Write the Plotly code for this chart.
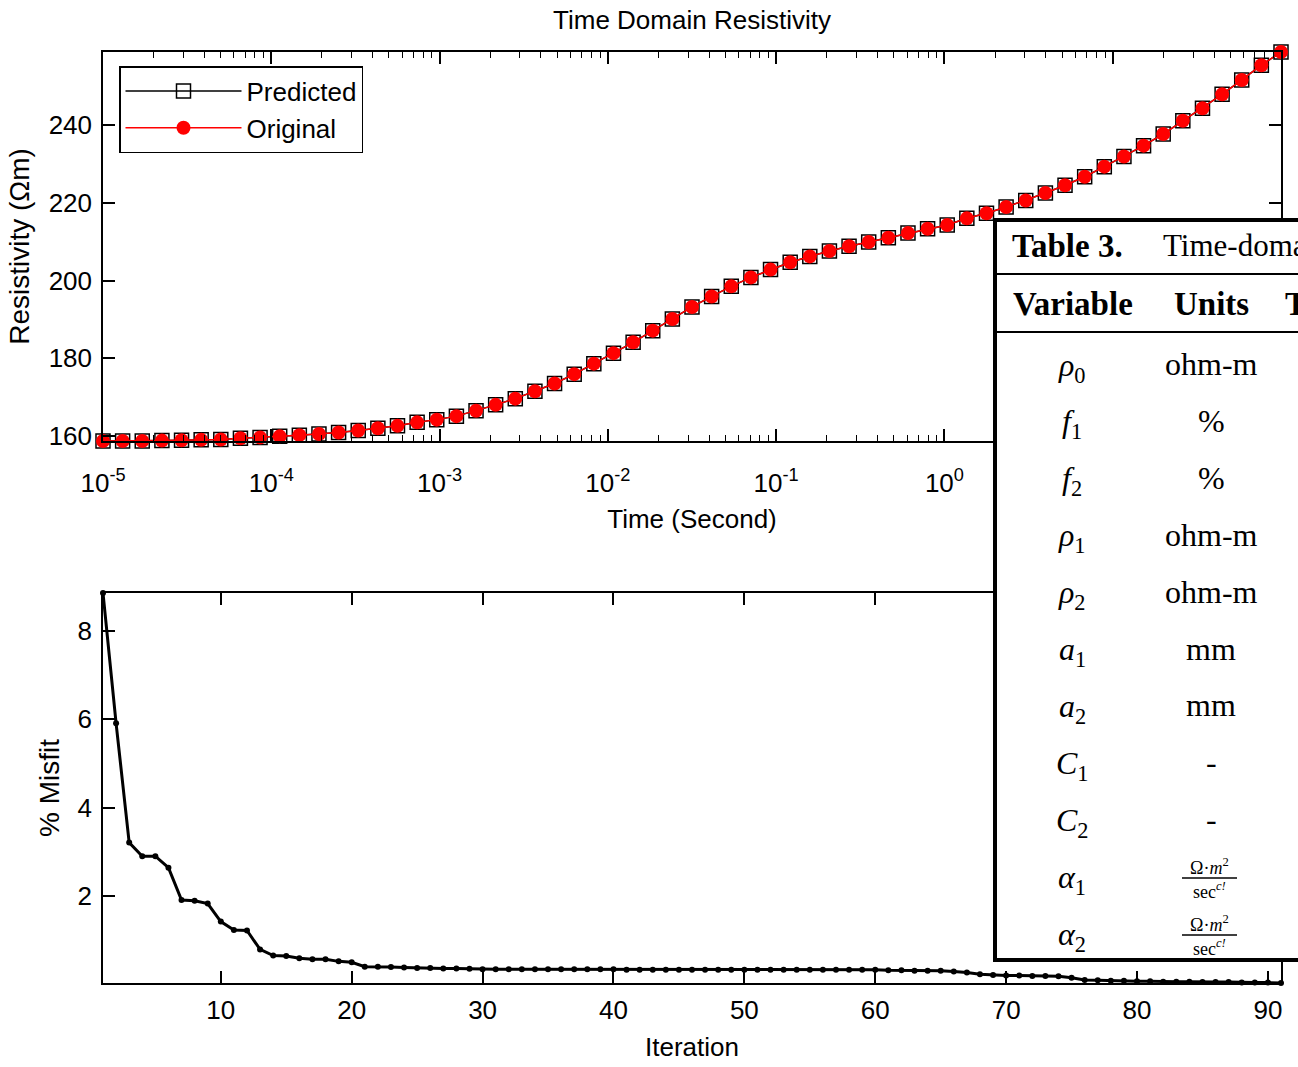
import plotly.graph_objects as go

# ---------------- data ----------------
time_s = [1.000e-5, 1.308e-5, 1.711e-5, 2.239e-5, 2.929e-5, 3.831e-5, 5.012e-5, 6.556e-5, 8.577e-5,
          1.122e-4, 1.468e-4, 1.920e-4, 2.512e-4, 3.286e-4, 4.299e-4, 5.623e-4, 7.356e-4, 9.624e-4,
          1.259e-3, 1.647e-3, 2.154e-3, 2.818e-3, 3.687e-3, 4.823e-3, 6.310e-3, 8.254e-3,
          1.080e-2, 1.413e-2, 1.848e-2, 2.417e-2, 3.162e-2, 4.137e-2, 5.412e-2, 7.080e-2, 9.261e-2,
          1.212e-1, 1.585e-1, 2.073e-1, 2.712e-1, 3.548e-1, 4.642e-1, 6.072e-1, 7.943e-1,
          1.039, 1.359, 1.778, 2.326, 3.043, 3.981, 5.208, 6.813, 8.913,
          11.66, 15.25, 19.95, 26.10, 34.15, 44.67, 58.43, 76.44, 100.0]

resistivity_original = [158.7, 158.7, 158.7, 158.8, 158.9, 159.0, 159.1, 159.4, 159.6, 159.9,
                        160.2, 160.5, 160.9, 161.4, 162.0, 162.6, 163.5, 164.2, 165.1, 166.5,
                        168.0, 169.6, 171.5, 173.5, 175.9, 178.6, 181.3, 184.1, 187.1, 190.1,
                        193.2, 195.9, 198.5, 200.8, 202.8, 204.7, 206.2, 207.6, 208.8, 209.9,
                        211.0, 212.2, 213.3, 214.3, 216.0, 217.3, 218.9, 220.6, 222.5, 224.5,
                        226.7, 229.3, 231.9, 234.7, 237.7, 241.1, 244.3, 247.9, 251.6, 255.4,
                        258.8]

resistivity_predicted = [158.7, 158.7, 158.7, 158.8, 158.9, 159.0, 159.1, 159.4, 159.6, 159.9,
                         160.2, 160.5, 160.9, 161.4, 162.0, 162.6, 163.5, 164.2, 165.1, 166.5,
                         168.0, 169.6, 171.5, 173.5, 175.9, 178.6, 181.3, 184.1, 187.1, 190.1,
                         193.2, 195.9, 198.5, 200.8, 202.8, 204.7, 206.2, 207.6, 208.8, 209.9,
                         211.0, 212.2, 213.3, 214.3, 216.0, 217.3, 218.9, 220.6, 222.5, 224.5,
                         226.7, 229.3, 231.9, 234.7, 237.7, 241.1, 244.3, 247.9, 251.6, 255.4,
                         258.8]

iterations = list(range(1, 92))
misfit_pct = [8.86, 5.91, 3.21, 2.90, 2.90, 2.64, 1.91, 1.89, 1.83, 1.42,
              1.23, 1.22, 0.79, 0.65, 0.64, 0.59, 0.57, 0.57, 0.52, 0.50,
              0.40, 0.40, 0.39, 0.38, 0.37, 0.37, 0.36, 0.36, 0.35, 0.34,
              0.34, 0.34, 0.34, 0.34, 0.34, 0.34, 0.34, 0.34, 0.34, 0.34,
              0.33, 0.33, 0.33, 0.33, 0.33, 0.33, 0.33, 0.33, 0.33, 0.33,
              0.33, 0.33, 0.33, 0.33, 0.33, 0.33, 0.33, 0.33, 0.33, 0.33,
              0.32, 0.32, 0.31, 0.31, 0.31, 0.29, 0.27, 0.23, 0.21, 0.20,
              0.20, 0.19, 0.19, 0.18, 0.15, 0.10, 0.09, 0.08, 0.08, 0.07,
              0.07, 0.06, 0.06, 0.06, 0.05, 0.05, 0.05, 0.04, 0.04, 0.04,
              0.03]

time_tick_vals = [1e-5, 1e-4, 1e-3, 1e-2, 1e-1, 1e0, 1e1, 1e2]
time_tick_text = ["10<sup>-5</sup>", "10<sup>-4</sup>", "10<sup>-3</sup>", "10<sup>-2</sup>",
                  "10<sup>-1</sup>", "10<sup>0</sup>", "10<sup>1</sup>", "10<sup>2</sup>"]
time_minor_vals = [m * d for d in [1e-5, 1e-4, 1e-3, 1e-2, 1e-1, 1e0, 1e1] for m in range(2, 10)]
res_tick_vals = [160, 180, 200, 220, 240]
iter_tick_vals = [10, 20, 30, 40, 50, 60, 70, 80, 90]
misfit_tick_vals = [2, 4, 6, 8]

# table overlay content
table_title_bold = "Table 3."
table_title_rest = "Time-domain"
table_headers = ["Variable", "Units", "T"]
table_vars = ["<i>ρ</i><sub>0</sub>", "<i>f</i><sub>1</sub>", "<i>f</i><sub>2</sub>",
              "<i>ρ</i><sub>1</sub>", "<i>ρ</i><sub>2</sub>", "<i>a</i><sub>1</sub>",
              "<i>a</i><sub>2</sub>", "<i>C</i><sub>1</sub>", "<i>C</i><sub>2</sub>",
              "<i>α</i><sub>1</sub>", "<i>α</i><sub>2</sub>"]
table_units = ["ohm-m", "%", "%", "ohm-m", "ohm-m", "mm", "mm", "-", "-", None, None]
frac_num = "Ω·<i>m</i><sup>2</sup>"
frac_den = "sec<sup><i>c!</i></sup>"

# ---------------- geometry helpers (pixel -> paper) ----------------
W, H = 1298, 1067
L, R, T, B = 103, 1281, 52, 983


def px(x):
    return (x - L) / (R - L)


def py(y):
    return (B - y) / (B - T)


SANS = "Liberation Sans, Arial, sans-serif"
SERIF = "Liberation Serif, Times New Roman, serif"

fig = go.Figure()

fig.add_trace(go.Scatter(
    x=time_s, y=resistivity_predicted, name="Predicted", mode="lines+markers",
    line=dict(color="black", width=1.5),
    marker=dict(symbol="square-open", size=14, color="black", line=dict(width=1.5, color="black")),
    xaxis="x", yaxis="y", cliponaxis=False))
fig.add_trace(go.Scatter(
    x=time_s, y=resistivity_original, name="Original", mode="lines+markers",
    line=dict(color="#ff0000", width=1.5),
    marker=dict(symbol="circle", size=14, color="#ff0000"),
    xaxis="x", yaxis="y", cliponaxis=False))
fig.add_trace(go.Scatter(
    x=iterations, y=misfit_pct, mode="lines+markers", showlegend=False,
    line=dict(color="black", width=3), marker=dict(size=6, color="black"),
    xaxis="x2", yaxis="y2", cliponaxis=False))

axis_common = dict(showline=True, linecolor="black", linewidth=1.5, mirror="ticks",
                   ticks="inside", ticklen=12, tickwidth=1.5, tickcolor="black",
                   showgrid=False, zeroline=False, automargin=False,
                   tickfont=dict(family=SANS, size=26, color="black"))

fig.update_layout(
    width=W, height=H,
    margin=dict(l=L, r=W - R, t=T, b=H - B, autoexpand=False),
    paper_bgcolor="white", plot_bgcolor="white",
    font=dict(family=SANS, size=26, color="black"),
    title=dict(text="Time Domain Resistivity", x=692 / W, xref="container", xanchor="center",
               y=1 - 20 / H, yref="container", yanchor="middle",
               font=dict(family=SANS, size=26, color="black")),
    xaxis=dict(type="log", range=[-5, 2], domain=[0, 1], anchor="y",
               tickmode="array", tickvals=time_tick_vals, ticktext=time_tick_text,
               ticklabelstandoff=18,
               minor=dict(tickmode="array", tickvals=time_minor_vals, ticks="inside",
                          ticklen=6, tickwidth=1.2, tickcolor="black"),
               title=dict(text="Time (Second)", standoff=13, font=dict(family=SANS, size=26)),
               **axis_common),
    yaxis=dict(range=[158.7, 258.8], domain=[py(441), 1], anchor="x",
               tickmode="array", tickvals=res_tick_vals, ticklabelstandoff=4,
               title=dict(text="Resistivity (Ωm)", standoff=11, font=dict(family=SANS, size=28)),
               **axis_common),
    xaxis2=dict(range=[1, 91], domain=[0, 1], anchor="y2",
                tickmode="array", tickvals=iter_tick_vals, ticklabelstandoff=3,
                title=dict(text="Iteration", standoff=14, font=dict(family=SANS, size=26)),
                **axis_common),
    yaxis2=dict(range=[0.03, 8.86], domain=[0, py(593)], anchor="x2",
                tickmode="array", tickvals=misfit_tick_vals, ticklabelstandoff=4,
                title=dict(text="% Misfit", standoff=10, font=dict(family=SANS, size=28)),
                **axis_common),
    legend=dict(x=px(119), y=py(66), xanchor="left", yanchor="top",
                bgcolor="white", bordercolor="black", borderwidth=1.5,
                font=dict(family=SANS, size=26, color="black"),
                itemwidth=116, tracegroupgap=0),
    showlegend=True,
)

# ---------------- table overlay ----------------
shapes = [
    dict(type="rect", xref="paper", yref="paper", x0=px(995), x1=px(1320), y0=py(960), y1=py(220),
         fillcolor="white", line=dict(color="black", width=4), layer="above"),
    dict(type="line", xref="paper", yref="paper", x0=px(997), x1=px(1320), y0=py(274), y1=py(274),
         line=dict(color="black", width=2), layer="above"),
    dict(type="line", xref="paper", yref="paper", x0=px(997), x1=px(1320), y0=py(332), y1=py(332),
         line=dict(color="black", width=2), layer="above"),
]

HEAD_FONT = dict(family=SERIF, size=33, color="black")
annotations = [
    dict(text="<b>" + table_title_bold + "</b>", x=px(1010), y=py(246), xanchor="left",
         yanchor="middle", font=HEAD_FONT),
    dict(text=table_title_rest, x=px(1161), y=py(246), xanchor="left", yanchor="middle",
         font=dict(family=SERIF, size=31, color="black")),
    dict(text="<b>" + table_headers[0] + "</b>", x=px(1073), y=py(304), xanchor="center",
         yanchor="middle", font=HEAD_FONT),
    dict(text="<b>" + table_headers[1] + "</b>", x=px(1211), y=py(304), xanchor="center",
         yanchor="middle", font=HEAD_FONT),
    dict(text="<b>" + table_headers[2] + "</b>", x=px(1283), y=py(304), xanchor="left",
         yanchor="middle", font=HEAD_FONT),
]
row_y0, row_dy = 367, 56.9
for i, (v, u) in enumerate(zip(table_vars, table_units)):
    yy = row_y0 + i * row_dy
    annotations.append(dict(text=v, x=px(1072), y=py(yy), xanchor="center", yanchor="middle"))
    if u is not None:
        annotations.append(dict(text=u, x=px(1211), y=py(yy - 3), xanchor="center", yanchor="middle"))
    else:
        annotations.append(dict(text=frac_num, x=px(1209), y=py(yy - 13), xanchor="center",
                                yanchor="middle", font=dict(family=SERIF, size=18, color="black")))
        annotations.append(dict(text=frac_den, x=px(1209), y=py(yy + 11), xanchor="center",
                                yanchor="middle", font=dict(family=SERIF, size=18, color="black")))
        shapes.append(dict(type="line", xref="paper", yref="paper", x0=px(1182), x1=px(1237),
                           y0=py(yy - 1), y1=py(yy - 1), line=dict(color="black", width=1.5),
                           layer="above"))

for a in annotations:
    a.setdefault("xref", "paper")
    a.setdefault("yref", "paper")
    a.setdefault("showarrow", False)
    a.setdefault("font", dict(family=SERIF, size=32, color="black"))

fig.update_layout(shapes=shapes, annotations=annotations)

fig.write_html("out.html")
